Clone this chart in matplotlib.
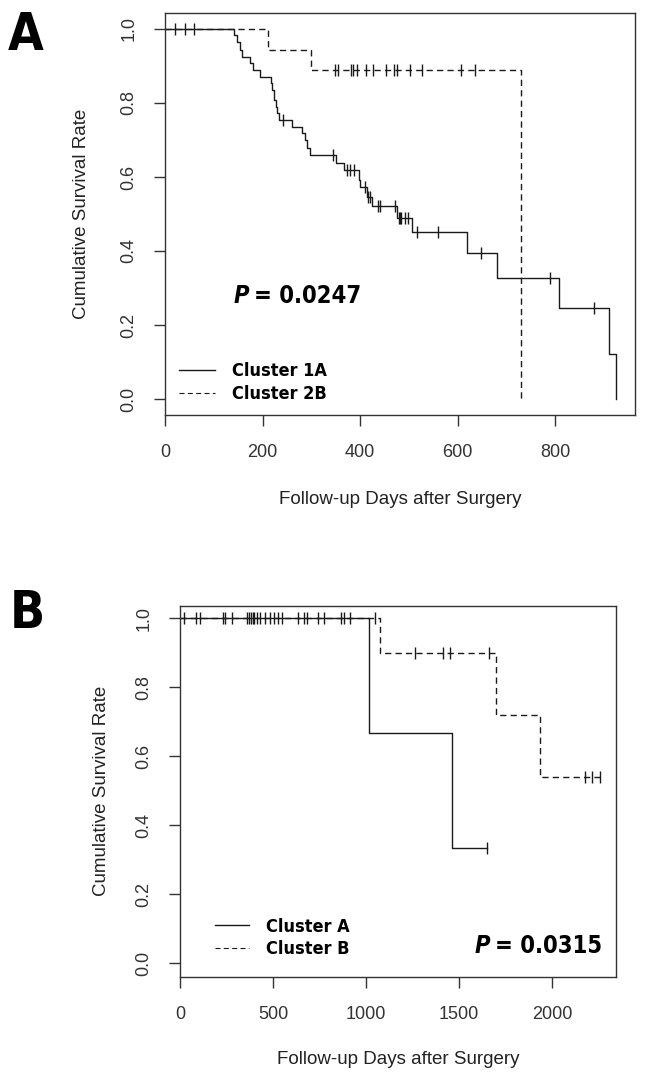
import matplotlib
matplotlib.use("Agg")
import matplotlib.pyplot as plt
from matplotlib.lines import Line2D
from matplotlib import font_manager as fm
import numpy as np

plt.rcParams['font.family'] = ['Liberation Sans', 'DejaVu Sans']

# panel A: Cluster 1A (solid) / Cluster 2B (dashed)
a1_times = [0, 142, 148, 153, 158, 175, 181, 195, 217, 220, 224, 227, 229, 233,
            260, 280, 287, 291, 297, 350, 368, 397, 400, 414, 424, 475, 506,
            620, 680, 809, 911, 926]
a1_surv = [1.0, 0.984, 0.966, 0.943, 0.923, 0.907, 0.889, 0.869, 0.853, 0.835,
           0.808, 0.790, 0.772, 0.754, 0.736, 0.718, 0.700, 0.677, 0.659, 0.637,
           0.619, 0.592, 0.574, 0.547, 0.522, 0.488, 0.452, 0.394, 0.326, 0.245,
           0.122, 0.0]
a1_cens = [20, 42, 60, 243, 345, 373, 380, 387, 410, 417, 420, 436, 440, 472,
           479, 482, 485, 492, 499, 516, 560, 648, 790, 879]

a2_times = [0, 212, 300, 730]
a2_surv = [1.0, 0.944, 0.889, 0.0]
a2_cens = [349, 354, 381, 386, 393, 412, 427, 453, 470, 475, 503, 528, 607, 636]

# panel B: Cluster A (solid) / Cluster B (dashed)
b1_times = [0, 1016, 1464]
b1_surv = [1.0, 0.667, 0.333]
b1_cens = [23, 84, 108, 229, 242, 278, 358, 371, 382, 391, 400, 412, 430, 457,
           484, 505, 529, 550, 636, 667, 681, 744, 774, 866, 884, 914, 1652]

b2_times = [0, 1075, 1697, 1935]
b2_surv = [1.0, 0.90, 0.72, 0.54]
b2_cens = [1050, 1263, 1416, 1452, 1663, 2177, 2215, 2258]


def narrow_font(size, italic=False):
    # look for an installed narrow / condensed bold face
    found = []
    for f in fm.fontManager.ttflist:
        n = f.fname.lower()
        if not ('narrow' in n or 'condensed' in n):
            continue
        if 'bold' not in n:
            continue
        is_it = ('italic' in n) or ('oblique' in n)
        if is_it != italic:
            continue
        rank = 0 if 'liberation' in n else (1 if 'dejavusans' in n else 2)
        found.append((rank, f.fname))
    if found:
        found.sort()
        return fm.FontProperties(fname=found[0][1], size=size)
    return fm.FontProperties(family='DejaVu Sans', weight='bold',
                             style='italic' if italic else 'normal', size=size)


def surv_at(times, surv, t):
    idx = np.searchsorted(times, t, side='right') - 1
    return np.asarray(surv)[idx]


def km_curve(ax, times, surv, cens, ls):
    t = list(times)
    s = list(surv)
    if max(cens) > t[-1]:
        t.append(max(cens))
        s.append(s[-1])
    line = ax.step(t, s, where='post', color='#1a1a1a', lw=1.0)[0]
    if ls == 'dashed':
        line.set_dashes((4.5, 3))
    cy = surv_at(times, surv, cens)
    ax.plot(cens, cy, ls='none', marker='|', ms=8, mew=1.0, color='#1a1a1a')


def style_axes(ax, xmax, xticks, ylim):
    ax.set_xlim(0, xmax)
    ax.set_ylim(*ylim)
    ax.set_xticks(xticks)
    ax.set_yticks([0.0, 0.2, 0.4, 0.6, 0.8, 1.0])
    ax.set_yticklabels(['0.0', '0.2', '0.4', '0.6', '0.8', '1.0'], rotation=90, va='center')
    ax.tick_params(length=8, width=1.0, color='#333333', labelsize=13,
                   labelcolor='#333333')
    ax.tick_params(axis='x', pad=13)
    ax.tick_params(axis='y', pad=12)
    for sp in ax.spines.values():
        sp.set_color('#333333')
        sp.set_linewidth(1.0)
    ax.set_ylabel('Cumulative Survival Rate', fontsize=13.5, color='#222222')
    ax.set_xlabel('Follow-up Days after Surgery', fontsize=13.5, color='#222222')


def p_text(ax, x, y, val, size):
    t = ax.text(x, y, 'P', transform=ax.transAxes, va='baseline',
                fontproperties=narrow_font(size, italic=True))
    ax.annotate('= ' + val, xy=(1, 0), xycoords=t, xytext=(4, 0),
                textcoords='offset points', va='bottom',
                fontproperties=narrow_font(size))


fig = plt.figure(figsize=(6.46, 10.75), dpi=100)

axA = fig.add_axes([0.2554, 0.6140, 0.7276, 0.3739])
km_curve(axA, a2_times, a2_surv, a2_cens, 'dashed')
km_curve(axA, a1_times, a1_surv, a1_cens, 'solid')
style_axes(axA, 964, [0, 200, 400, 600, 800], (-0.043, 1.043))
axA.yaxis.set_label_coords(-0.16, 0.5)
axA.xaxis.set_label_coords(0.5, -0.19)
p_text(axA, 0.145, 0.279, '0.0247', 17)

axB = fig.add_axes([0.2786, 0.0914, 0.6750, 0.3449])
km_curve(axB, b2_times, b2_surv, b2_cens, 'dashed')
km_curve(axB, b1_times, b1_surv, b1_cens, 'solid')
style_axes(axB, 2344, [0, 500, 1000, 1500, 2000], (-0.039, 1.036))
axB.yaxis.set_label_coords(-0.16, 0.5)
axB.xaxis.set_label_coords(0.5, -0.2)
p_text(axB, 0.675, 0.064, '0.0315', 17)

solid_h = Line2D([], [], color='#1a1a1a', lw=1.0)
dash_h = Line2D([], [], color='#1a1a1a', lw=0.8, dashes=(4.5, 3))
axA.legend([solid_h, dash_h], ['Cluster 1A', 'Cluster 2B'], loc='lower left',
           bbox_to_anchor=(0.03, 0.03), frameon=False, prop=narrow_font(13),
           handlelength=2.0, handletextpad=0.95, labelspacing=0.25,
           borderpad=0, borderaxespad=0)
axB.legend([solid_h, dash_h], ['Cluster A', 'Cluster B'], loc='lower left',
           bbox_to_anchor=(0.08, 0.05), frameon=False, prop=narrow_font(13),
           handlelength=1.9, handletextpad=0.95, labelspacing=0.25,
           borderpad=0, borderaxespad=0)

fig.text(0.012, 0.99, 'A', va='top', fontproperties=narrow_font(37))
fig.text(0.015, 0.452, 'B', va='top', fontproperties=narrow_font(37))

fig.savefig('out.png', dpi=100)
